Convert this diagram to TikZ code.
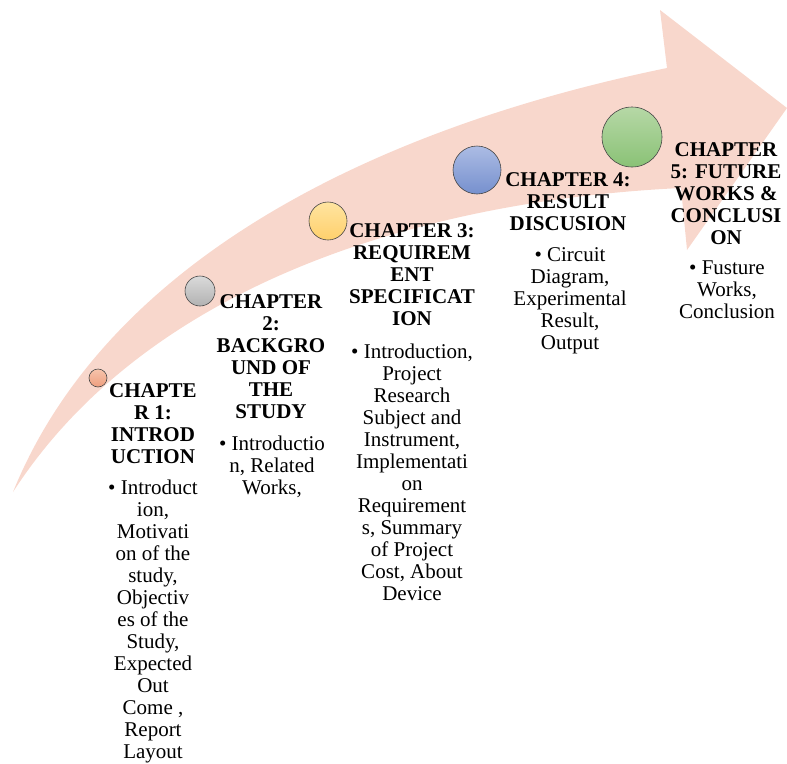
\documentclass[tikz,border=0pt]{standalone}
\usepackage{fontspec}
\setmainfont{Liberation Serif}
\definecolor{arrowpink}{RGB}{248,215,204}
\definecolor{rimgray}{RGB}{70,70,70}
\tikzset{
  headtext/.style={font=\bfseries\fontsize{21}{22}\selectfont, align=center, anchor=north, inner sep=0pt},
  bodytext/.style={font=\fontsize{21}{22}\selectfont, align=center, anchor=north, inner sep=0pt},
  dot/.style={circle, inner sep=0pt, draw=rimgray, line width=0.6pt, shade, shading angle=0},
}
\begin{document}
\begin{tikzpicture}[x=1pt, y=-1pt]
\useasboundingbox (0,0) rectangle (787,763);

% curved arrow band
\fill[arrowpink] (13,492) .. controls (105,265) and (365,130) .. (667,68)
  -- (660,10) -- (787,108) -- (687,250) -- (681,188)
  .. controls (430,200) and (150,280) .. (13,492) -- cycle;

% milestone dots
\node[dot, minimum size=18pt, top color={rgb,255:red,247;green,196;blue,172}, bottom color={rgb,255:red,238;green,158;blue,126}] (d1) at (98,378) {};
\node[dot, minimum size=30pt, top color={rgb,255:red,218;green,218;blue,218}, bottom color={rgb,255:red,178;green,178;blue,178}] (d2) at (200,291) {};
\node[dot, minimum size=38pt, top color={rgb,255:red,255;green,228;blue,160}, bottom color={rgb,255:red,255;green,208;blue,108}] (d3) at (328,221) {};
\node[dot, minimum size=48pt, top color={rgb,255:red,172;green,188;blue,228}, bottom color={rgb,255:red,118;green,144;blue,206}] (d4) at (477,170) {};
\node[dot, minimum size=60pt, top color={rgb,255:red,182;green,216;blue,166}, bottom color={rgb,255:red,138;green,194;blue,118}] (d5) at (632,137) {};

% chapter 1
\node[headtext] (h1) at (153,383) {CHAPTE\\R 1:\\INTROD\\UCTION};
\node[bodytext] (b1) at (153,480) {• Introduct\\ion,\\Motivati\\on of the\\study,\\Objectiv\\es of the\\Study,\\Expected\\Out\\Come ,\\Report\\Layout};

% chapter 2
\node[headtext] (h2) at (271,294) {CHAPTER\\2:\\BACKGRO\\UND OF\\THE\\STUDY};
\node[bodytext] (b2) at (272,436) {• Introductio\\n, Related\\Works,};

% chapter 3
\node[headtext] (h3) at (412,223) {CHAPTER 3:\\REQUIREM\\ENT\\SPECIFICAT\\ION};
\node[bodytext] (b3) at (412,344) {• Introduction,\\Project\\Research\\Subject and\\Instrument,\\Implementati\\on\\Requirement\\s, Summary\\of Project\\Cost, About\\Device};

% chapter 4
\node[headtext] (h4) at (568,172) {CHAPTER 4:\\RESULT\\DISCUSION};
\node[bodytext] (b4) at (570,247) {• Circuit\\Diagram,\\Experimental\\Result,\\Output};

% chapter 5
\node[headtext] (h5) at (726,142) {CHAPTER\\5: FUTURE\\WORKS \&\\CONCLUSI\\ON};
\node[bodytext] (b5) at (727,261) {• Fusture\\Works,\\Conclusion};
\end{tikzpicture}
\end{document}
